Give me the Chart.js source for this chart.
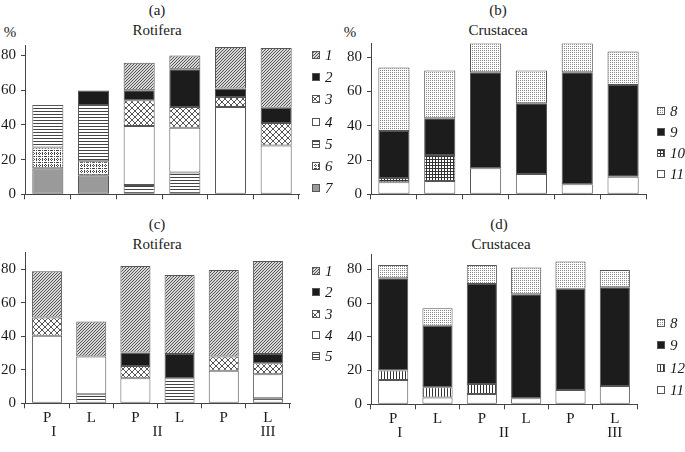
<!DOCTYPE html>
<html>
<head>
<meta charset="utf-8">
<script src="https://cdn.jsdelivr.net/npm/chart.js@4.4.1/dist/chart.umd.min.js"></script>
<style>
  body { margin: 0; background: #fff; }
  #wrap { position: relative; width: 685px; height: 452px; font-family: "Liberation Serif", "DejaVu Serif", serif; color: #1a1a1a; }
  canvas { position: absolute; }
  .t { position: absolute; font-size: 15px; line-height: 18px; transform: translate(-50%, -50%); white-space: nowrap; }
</style>
</head>
<body>
<div id="wrap">
  <div class="t" style="left:157px;top:10px">(a)</div>
  <div class="t" style="left:157px;top:30px">Rotifera</div>
  <div class="t" style="left:498px;top:10px">(b)</div>
  <div class="t" style="left:498px;top:30px">Crustacea</div>
  <div class="t" style="left:157px;top:224px">(c)</div>
  <div class="t" style="left:157px;top:244px">Rotifera</div>
  <div class="t" style="left:499px;top:224px">(d)</div>
  <div class="t" style="left:501px;top:244px">Crustacea</div>
  <div class="t" style="left:10px;top:32px">%</div>
  <div class="t" style="left:350px;top:32px">%</div>
  <canvas id="chartA" width="342" height="216" style="left:0;top:0"></canvas>
  <canvas id="chartB" width="343" height="216" style="left:342px;top:0"></canvas>
  <canvas id="chartC" width="342" height="236" style="left:0;top:216px"></canvas>
  <canvas id="chartD" width="343" height="236" style="left:342px;top:216px"></canvas>
</div>
<script>
// categories
const sites = ["P", "L", "P", "L", "P", "L"];
const groups = ["I", "II", "III"];
const groupAt = [0.15, 2.5, 5];

// (a) Rotifera, %
const a1 = [0, 0, 15.9, 8, 23.9, 34.4];
const a2 = [0, 8.3, 5.7, 21.7, 4.8, 8.7];
const a3 = [0, 0, 14.8, 12, 5.8, 13];
const a4 = [0, 0, 34, 25.7, 50.3, 28.1];
const a5 = [24.5, 32.5, 5.4, 12.6, 0, 0];
const a6 = [12, 8, 0, 0, 0, 0];
const a7 = [15, 11, 0, 0, 0, 0];

// (b) Crustacea, %
const b8 = [37, 27.8, 16.9, 19.1, 16.9, 19.5];
const b9 = [27.5, 21.4, 56, 41.2, 65.4, 53.5];
const b10 = [2.5, 15.2, 0, 0, 0, 0];
const b11 = [7, 7.8, 15.2, 11.9, 5.8, 10.3];

// (c) Rotifera, %
const c1 = [27.5, 20.9, 51.6, 47.1, 51.7, 55.5];
const c2 = [0, 0, 8.1, 14.6, 0, 5.6];
const c3 = [10.9, 0, 7.4, 0, 8.4, 6.6];
const c4 = [40.4, 22.5, 14.9, 0, 19.5, 14.3];
const c5 = [0, 5.4, 0, 14.9, 0, 3];

// (d) Crustacea, %
const d8 = [7.9, 10.3, 11.3, 15.8, 16.2, 10.2];
const d9 = [54.7, 36.5, 59.3, 61.6, 59.9, 58.5];
const d12 = [5.6, 6.1, 5.9, 0, 0, 0];
const d11 = [14.4, 4, 6.1, 3.6, 8.5, 10.9];

const FONT = "'Liberation Serif', 'DejaVu Serif', serif";
const INK = "#1a1a1a";
const LINE = "#444";

// small tiles for the hatch fills
function tile(w, h, bg, fg, on) {
  const c = document.createElement("canvas");
  c.width = w; c.height = h;
  const g = c.getContext("2d");
  g.fillStyle = bg;
  g.fillRect(0, 0, w, h);
  g.fillStyle = fg;
  for (let y = 0; y < h; y++)
    for (let x = 0; x < w; x++)
      if (on(x, y)) g.fillRect(x, y, 1, 1);
  return g.createPattern(c, "repeat");
}

const fill = {
  diag: tile(3, 3, "#d8d8d8", "#555", (x, y) => x + y === 2),
  black: "#1c1c1c",
  cross: tile(6, 6, "#fff", "#555", (x, y) => x === y || x === 5 - y),
  white: "#ffffff",
  hlines: tile(1, 3, "#fff", "#444", (x, y) => y === 0),
  dots: tile(6, 6, "#fff", "#444", (x, y) => (x % 3 === 0 && y % 2 === 0) || (y % 3 === 0 && x % 2 === 0)),
  gray: "#9a9a9a",
  stipple: tile(2, 2, "#fff", "#888", (x, y) => x === 0 && y === 0),
  grid: tile(3, 3, "#fff", "#333", (x, y) => x === 0 || y === 0),
  vlines: tile(3, 1, "#fff", "#333", (x) => x === 0),
};

function ds(label, values, bg) {
  return { label, data: values.map((v) => v || null), backgroundColor: bg };
}

// legend drawn at the right of each panel, top entry = top of stack
const sideLegend = {
  id: "sideLegend",
  afterDraw(chart, args, opts) {
    const ctx = chart.ctx;
    const sets = chart.data.datasets.slice().reverse();
    ctx.save();
    ctx.textBaseline = "middle";
    ctx.font = "italic 15px " + FONT;
    sets.forEach((d, i) => {
      const y = Math.round(opts.y + i * opts.step);
      ctx.fillStyle = d.backgroundColor;
      ctx.fillRect(opts.x, y - 4, 8, 8);
      ctx.strokeStyle = "#555";
      ctx.lineWidth = 1;
      ctx.strokeRect(opts.x + 0.5, y - 3.5, 7, 7);
      ctx.fillStyle = INK;
      ctx.fillText(d.label, opts.x + 13, y + 1);
    });
    ctx.restore();
  },
};

// I / II / III under the P-L labels
const groupLabels = {
  id: "groupLabels",
  afterDraw(chart, args, opts) {
    if (!opts.show) return;
    const ctx = chart.ctx;
    const xs = chart.scales.x;
    ctx.save();
    ctx.font = "15px " + FONT;
    ctx.fillStyle = INK;
    ctx.textAlign = "center";
    ctx.textBaseline = "middle";
    groups.forEach((g, i) => {
      ctx.fillText(g, xs.getPixelForValue(groupAt[i]), chart.chartArea.bottom + 29);
    });
    ctx.restore();
  },
};

function makeChart(id, datasets, o) {
  return new Chart(document.getElementById(id), {
    type: "bar",
    data: { labels: sites, datasets },
    options: {
      responsive: false,
      animation: false,
      layout: { padding: { left: 0, top: o.top, right: o.right, bottom: 0 } },
      datasets: {
        bar: { categoryPercentage: 1, barPercentage: 0.68, borderWidth: 1, borderColor: "#555", borderSkipped: false },
      },
      plugins: {
        legend: { display: false },
        tooltip: { enabled: false },
        sideLegend: o.legend,
        groupLabels: { show: o.xlabels },
      },
      scales: {
        x: {
          stacked: true,
          grid: { drawOnChartArea: false, tickLength: 5, color: LINE },
          border: { color: LINE },
          ticks: { display: o.xlabels, padding: 1, color: INK, font: { family: FONT, size: 15 } },
          afterFit: (s) => { s.height = o.xh; },
        },
        y: {
          stacked: true,
          min: 0,
          max: o.max,
          grid: { drawOnChartArea: false, tickLength: 4, color: LINE },
          border: { color: LINE },
          ticks: { stepSize: 20, includeBounds: false, padding: 5, color: INK, font: { family: FONT, size: 15 } },
          afterFit: (s) => { s.width = o.yw; },
        },
      },
    },
    plugins: [sideLegend, groupLabels],
  });
}

makeChart("chartA", [
  ds("7", a7, fill.gray),
  ds("6", a6, fill.dots),
  ds("5", a5, fill.hlines),
  ds("4", a4, fill.white),
  ds("3", a3, fill.cross),
  ds("2", a2, fill.black),
  ds("1", a1, fill.diag),
], { top: 45, right: 43, xh: 21.7, yw: 25, max: 86, xlabels: false, legend: { x: 312, y: 55, step: 22.2 } });

makeChart("chartB", [
  ds("11", b11, fill.white),
  ds("10", b10, fill.grid),
  ds("9", b9, fill.black),
  ds("8", b8, fill.stipple),
], { top: 43.5, right: 39, xh: 21.7, yw: 29, max: 88, xlabels: false, legend: { x: 315, y: 111, step: 21 } });

makeChart("chartC", [
  ds("5", c5, fill.hlines),
  ds("4", c4, fill.white),
  ds("3", c3, fill.cross),
  ds("2", c2, fill.black),
  ds("1", c1, fill.diag),
], { top: 36.6, right: 52, xh: 48.7, yw: 25, max: 90, xlabels: true, legend: { x: 312, y: 55, step: 21.3 } });

makeChart("chartD", [
  ds("11", d11, fill.white),
  ds("12", d12, fill.vlines),
  ds("9", d9, fill.black),
  ds("8", d8, fill.stipple),
], { top: 38.1, right: 48, xh: 47.7, yw: 29, max: 89, xlabels: true, legend: { x: 315, y: 107, step: 22.3 } });
</script>
</body>
</html>
